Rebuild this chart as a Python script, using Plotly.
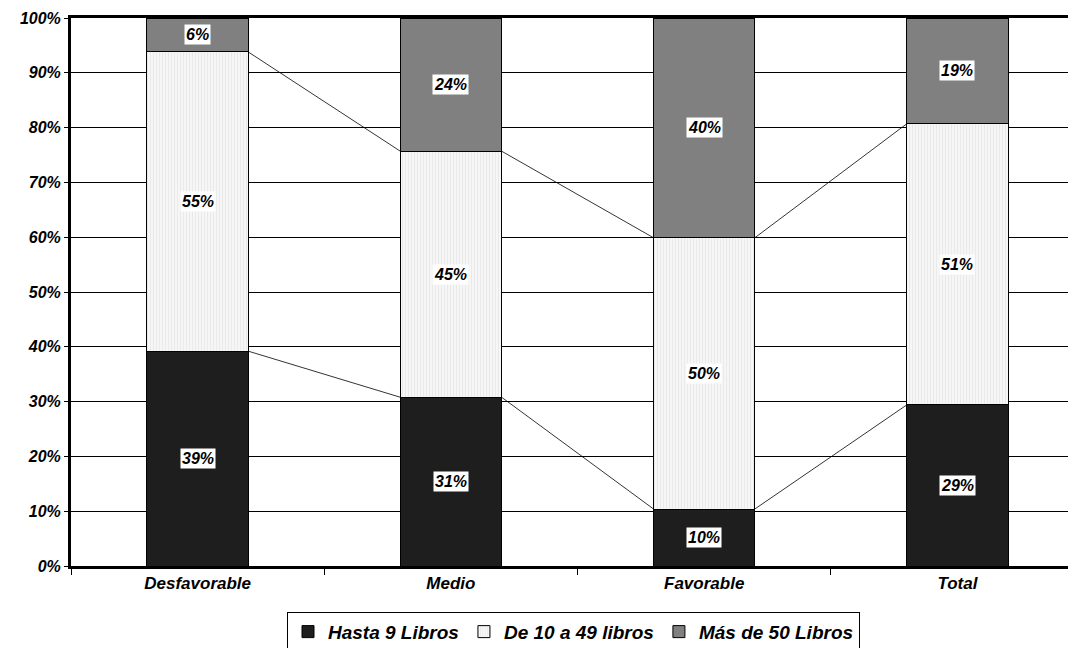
import plotly.graph_objects as go
import numpy as np

categories = ["Desfavorable", "Medio", "Favorable", "Total"]
hasta9 = [39.2, 30.8, 10.4, 29.4]
de10a49 = [54.6, 44.9, 49.5, 51.3]
mas50 = [6.2, 24.3, 40.1, 19.3]
series_names = ["Hasta 9 Libros", "De 10 a 49 libros", "Más de 50 Libros"]
ytick_vals = list(range(0, 101, 10))
ytick_text = [f"{v}%" for v in ytick_vals]

FONT = "Liberation Sans, Arial, sans-serif"
BAR_W = 0.4
x = np.arange(len(categories))

fig = go.Figure()
colors = ["#1e1e1e", "#f3f3f3", "#808080"]
data = [hasta9, de10a49, mas50]
for i, (name, vals) in enumerate(zip(series_names, data)):
    marker = dict(color=colors[i], line=dict(color="black", width=1))
    if i == 1:
        marker["pattern"] = dict(shape="|", fgcolor="#dcdcdc", bgcolor="#f6f6f6", size=3, solidity=0.3)
    fig.add_trace(go.Bar(x=x, y=vals, name=name, width=BAR_W, marker=marker))

# series lines between bars
cum1 = np.array(hasta9)
cum2 = cum1 + np.array(de10a49)
for cum in (cum1, cum2):
    for i in range(len(categories) - 1):
        fig.add_trace(go.Scatter(x=[x[i] + BAR_W / 2, x[i + 1] - BAR_W / 2],
                                 y=[cum[i], cum[i + 1]], mode="lines",
                                 line=dict(color="black", width=0.8),
                                 showlegend=False, hoverinfo="skip"))

# data labels
bottoms = [np.zeros(4), cum1, cum2]
for vals, bot in zip(data, bottoms):
    for i, v in enumerate(vals):
        fig.add_annotation(x=x[i], y=bot[i] + v / 2, text=f"{round(v)}%", showarrow=False,
                           bgcolor="white", borderpad=1,
                           font=dict(family=FONT, size=16, color="black", weight="bold", style="italic"))

fig.update_layout(
    width=1068, height=640,
    margin=dict(l=63, r=0, t=10, b=82, autoexpand=False),
    plot_bgcolor="white", paper_bgcolor="white",
    barmode="stack",
    font=dict(family=FONT, size=15, color="black", weight="bold", style="italic"),
    legend=dict(orientation="h", x=0.5, xanchor="center", y=-0.12, yanchor="middle",
                bordercolor="black", borderwidth=1,
                font=dict(family=FONT, size=19, weight="bold", style="italic"),
                itemwidth=30, traceorder="normal", tracegroupgap=0),
    xaxis=dict(range=[-0.5, 3.468], tickvals=list(x), ticktext=categories, ticks="",
               automargin=False,
               showgrid=False, zeroline=False, showline=True, linecolor="black", linewidth=3,
               mirror=True,
               minor=dict(tickmode="linear", tick0=-0.5, dtick=1, ticks="outside",
                          ticklen=6, tickcolor="black", tickwidth=1, showgrid=False),
               tickfont=dict(family=FONT, size=17, weight="bold", style="italic")),
    yaxis=dict(range=[0, 100], tickvals=ytick_vals, ticktext=ytick_text,
               automargin=False,
               showgrid=True, gridcolor="black", gridwidth=1, zeroline=False,
               showline=True, linecolor="black", linewidth=3, mirror=True,
               ticks="outside", ticklen=4, tickcolor="black",
               tickfont=dict(family=FONT, size=16, weight="bold", style="italic")),
)

fig.write_html("out.html")
